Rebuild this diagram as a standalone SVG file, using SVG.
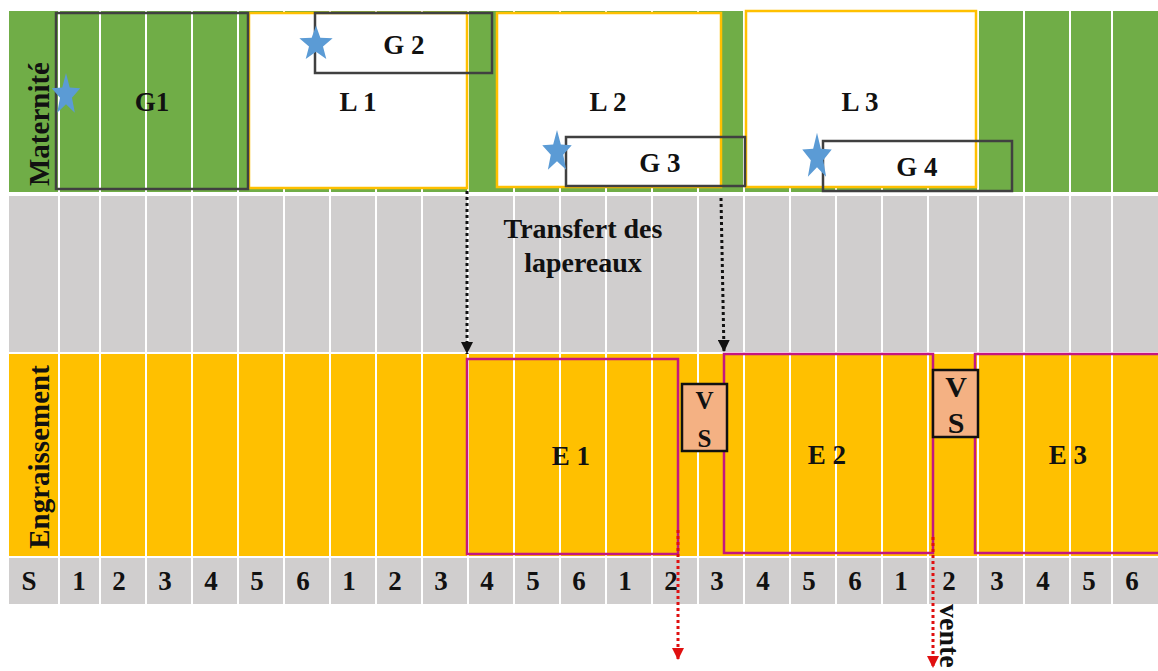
<svg xmlns="http://www.w3.org/2000/svg" width="1158" height="671" viewBox="0 0 1158 671">
  <style>
    text { font-family: "Liberation Serif", "Times New Roman", serif; font-weight: bold; fill: #111; }
    .lbl { font-size: 27px; text-anchor: middle; }
    .num { font-size: 27px; text-anchor: middle; }
    .side { font-size: 29px; text-anchor: middle; }
    .grid line { stroke: #ffffff; stroke-width: 2; }
    .gbox { fill: none; stroke: #404040; stroke-width: 2.5; }
    .lbox { fill: #ffffff; stroke: #FFC000; stroke-width: 2.5; }
    .ebox { fill: none; stroke: #C4177F; stroke-width: 2.5; }
    .vs rect { fill: #F4B183; stroke: #111; stroke-width: 2.5; }
    .star { fill: #5B9BD5; stroke: none; }
    .transfer { stroke: #111; stroke-width: 3; stroke-dasharray: 3 3; fill: none; }
    .sale { stroke: #E01010; stroke-width: 3; stroke-dasharray: 3 3; fill: none; }
  </style>
  <defs>
    <marker id="headBlack" markerUnits="userSpaceOnUse" markerWidth="12" markerHeight="12" refX="12" refY="6" orient="auto">
      <path d="M0,0 L12,6 L0,12 z" fill="#111"/>
    </marker>
    <marker id="headRed" markerUnits="userSpaceOnUse" markerWidth="12" markerHeight="12" refX="12" refY="6" orient="auto">
      <path d="M0,0 L12,6 L0,12 z" fill="#E01010"/>
    </marker>
    <!-- unit five-pointed star, outer radius 1 -->
    <polygon id="starShape" points="0,-1 0.247,-0.34 0.951,-0.309 0.4,0.13 0.588,0.809 0,0.42 -0.588,0.809 -0.4,0.13 -0.951,-0.309 -0.247,-0.34"/>
  </defs>

  <rect width="1158" height="671" fill="#ffffff"/>

  <!-- table rows -->
  <g id="rows">
    <rect x="9" y="11" width="1149" height="181" fill="#70AD47"/>
    <rect x="9" y="196" width="1149" height="156" fill="#D0CECE"/>
    <rect x="9" y="354" width="1149" height="202" fill="#FFC000"/>
    <rect x="9" y="558" width="1149" height="46" fill="#D0CECE"/>
  </g>

  <!-- week column separators -->
  <g class="grid">
    <line x1="59" y1="11" x2="59" y2="604"/>
    <line x1="100" y1="11" x2="100" y2="604"/>
    <line x1="146" y1="11" x2="146" y2="604"/>
    <line x1="192" y1="11" x2="192" y2="604"/>
    <line x1="238" y1="11" x2="238" y2="604"/>
    <line x1="284" y1="11" x2="284" y2="604"/>
    <line x1="330" y1="11" x2="330" y2="604"/>
    <line x1="376" y1="11" x2="376" y2="604"/>
    <line x1="422" y1="11" x2="422" y2="604"/>
    <line x1="468" y1="11" x2="468" y2="604"/>
    <line x1="514" y1="11" x2="514" y2="604"/>
    <line x1="560" y1="11" x2="560" y2="604"/>
    <line x1="606" y1="11" x2="606" y2="604"/>
    <line x1="652" y1="11" x2="652" y2="604"/>
    <line x1="698" y1="11" x2="698" y2="604"/>
    <line x1="744" y1="11" x2="744" y2="604"/>
    <line x1="790" y1="11" x2="790" y2="604"/>
    <line x1="836" y1="11" x2="836" y2="604"/>
    <line x1="882" y1="11" x2="882" y2="604"/>
    <line x1="928" y1="11" x2="928" y2="604"/>
    <line x1="978" y1="11" x2="978" y2="604"/>
    <line x1="1024" y1="11" x2="1024" y2="604"/>
    <line x1="1070" y1="11" x2="1070" y2="604"/>
    <line x1="1112" y1="11" x2="1112" y2="604"/>
  </g>

  <!-- row headings -->
  <text class="side" transform="translate(49,124) rotate(-90)">Maternité</text>
  <text class="side" transform="translate(49,457) rotate(-90)">Engraissement</text>

  <!-- week numbers -->
  <g id="weeks" class="num">
    <text x="29" y="590">S</text>
    <text x="79" y="590">1</text>
    <text x="119" y="590">2</text>
    <text x="165" y="590">3</text>
    <text x="211" y="590">4</text>
    <text x="257" y="590">5</text>
    <text x="303" y="590">6</text>
    <text x="349" y="590">1</text>
    <text x="395" y="590">2</text>
    <text x="441" y="590">3</text>
    <text x="487" y="590">4</text>
    <text x="533" y="590">5</text>
    <text x="579" y="590">6</text>
    <text x="625" y="590">1</text>
    <text x="671" y="590">2</text>
    <text x="717" y="590">3</text>
    <text x="763" y="590">4</text>
    <text x="809" y="590">5</text>
    <text x="855" y="590">6</text>
    <text x="901" y="590">1</text>
    <text x="949" y="590">2</text>
    <text x="997" y="590">3</text>
    <text x="1043" y="590">4</text>
    <text x="1089" y="590">5</text>
    <text x="1132" y="590">6</text>
  </g>

  <!-- lactation periods -->
  <g id="L1"><rect class="lbox" x="249" y="13" width="218" height="175"/><text class="lbl" x="358" y="111">L 1</text></g>
  <g id="L2"><rect class="lbox" x="497" y="13" width="224" height="174"/><text class="lbl" x="608" y="111">L 2</text></g>
  <g id="L3"><rect class="lbox" x="746" y="11" width="230" height="176"/><text class="lbl" x="860" y="111">L 3</text></g>

  <!-- gestation periods -->
  <g id="G1"><rect class="gbox" x="56" y="13" width="192" height="176"/><text class="lbl" x="152" y="111">G1</text></g>
  <g id="G2"><rect class="gbox" x="315" y="13" width="177" height="60"/><text class="lbl" x="404" y="54">G 2</text></g>
  <g id="G3"><rect class="gbox" x="566" y="137" width="179" height="49"/><text class="lbl" x="660" y="172">G 3</text></g>
  <g id="G4"><rect class="gbox" x="823" y="141" width="189" height="50"/><text class="lbl" x="917" y="176">G 4</text></g>

  <!-- mating marks -->
  <g id="stars">
    <use href="#starShape" class="star" transform="translate(66,95) scale(15,22)"/>
    <use href="#starShape" class="star" transform="translate(316,44) scale(17.5,18.5)"/>
    <use href="#starShape" class="star" transform="translate(557,152) scale(15.5,22)"/>
    <use href="#starShape" class="star" transform="translate(817,157) scale(15.5,24.3)"/>
  </g>

  <!-- transfer label -->
  <g id="transfer-label">
    <text class="lbl" x="583" y="238" style="font-size:28px">Transfert des</text>
    <text class="lbl" x="583" y="272" style="font-size:28px">lapereaux</text>
  </g>

  <!-- fattening batches -->
  <g id="E1"><rect class="ebox" x="467" y="359" width="211" height="195"/><text class="lbl" x="571" y="465">E 1</text></g>
  <g id="E2"><rect class="ebox" x="724" y="354" width="209" height="199"/><text class="lbl" x="827" y="464">E 2</text></g>
  <g id="E3"><rect class="ebox" x="975" y="354" width="200" height="199"/><text class="lbl" x="1068" y="464">E 3</text></g>

  <!-- empty-barn / cleaning slots -->
  <g id="VS1" class="vs">
    <rect x="682" y="384" width="45" height="67"/>
    <text class="lbl" x="704.5" y="409" style="font-size:25px">V</text>
    <text class="lbl" x="704.5" y="447" style="font-size:25px">S</text>
  </g>
  <g id="VS2" class="vs">
    <rect x="933" y="370" width="45" height="67"/>
    <text class="lbl" x="956" y="397" style="font-size:30px">V</text>
    <text class="lbl" x="956" y="433" style="font-size:30px">S</text>
  </g>

  <!-- connectors -->
  <g id="connectors">
    <line class="transfer" x1="467" y1="191" x2="467" y2="354" marker-end="url(#headBlack)"/>
    <line class="transfer" x1="721" y1="198" x2="724" y2="352" marker-end="url(#headBlack)"/>
    <line class="sale" x1="678" y1="530" x2="678" y2="660" marker-end="url(#headRed)"/>
    <line class="sale" x1="933" y1="537" x2="933" y2="668" marker-end="url(#headRed)"/>
  </g>

  <text class="lbl" x="0" y="0" style="text-anchor:start;font-size:28px" transform="translate(940,604) rotate(90)">vente</text>
</svg>
